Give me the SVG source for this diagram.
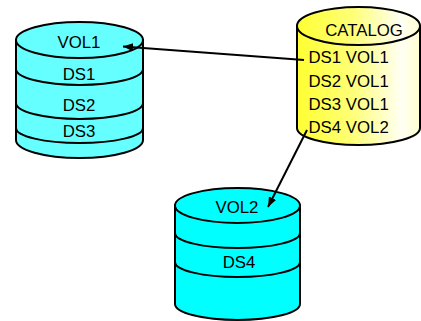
<svg xmlns="http://www.w3.org/2000/svg" width="421" height="321" viewBox="0 0 421 321">
  <style>
    .shape { stroke: #000; stroke-width: 2; }
    .band { fill: none; stroke: #000; stroke-width: 2; }
    .lbl { font-family: "Liberation Sans", Arial, sans-serif; font-size: 16.8px; fill: #000; }
    .mid { text-anchor: middle; }
    .conn { fill: none; stroke: #000; stroke-width: 2; }
  </style>
  <defs>
    <linearGradient id="catFill" x1="297" y1="0" x2="420" y2="0" gradientUnits="userSpaceOnUse">
      <stop offset="0" stop-color="#ffff33"/>
      <stop offset="0.45" stop-color="#ffff77"/>
      <stop offset="0.85" stop-color="#fffff4"/>
      <stop offset="1" stop-color="#ffffd0"/>
    </linearGradient>
    <marker id="head" viewBox="0 0 10 8" refX="10" refY="4" markerWidth="10" markerHeight="8" markerUnits="userSpaceOnUse" orient="auto">
      <path d="M0,0 L10,4 L0,8 Z" fill="#000"/>
    </marker>
  </defs>

  <rect width="421" height="321" fill="#fff"/>

  <!-- volume VOL1 -->
  <g id="vol1">
    <path class="shape" fill="#66ffff" d="M16,40 V140 A63.5,18 0 0 0 143,140 V40 Z"/>
    <ellipse class="shape" fill="#66ffff" cx="79.5" cy="40" rx="63.5" ry="18"/>
    <path class="band" d="M16,69 A63.5,16 0 0 0 143,69"/>
    <path class="band" d="M16,103 A63.5,16 0 0 0 143,103"/>
    <path class="band" d="M16,128 A63.5,15 0 0 0 143,128"/>
    <text class="lbl mid" x="79" y="48">VOL1</text>
    <text class="lbl mid" x="79" y="80">DS1</text>
    <text class="lbl mid" x="79" y="111">DS2</text>
    <text class="lbl mid" x="79" y="137">DS3</text>
  </g>

  <!-- catalog -->
  <g id="catalog">
    <path class="shape" fill="url(#catFill)" d="M297,26 V128 A61.5,17 0 0 0 420,128 V26 Z"/>
    <ellipse class="shape" fill="url(#catFill)" cx="358.5" cy="26" rx="61.5" ry="19"/>
    <text class="lbl mid" x="364" y="36">CATALOG</text>
    <text class="lbl" x="308.5" y="63">DS1 VOL1</text>
    <text class="lbl" x="308.5" y="86.5">DS2 VOL1</text>
    <text class="lbl" x="308.5" y="110">DS3 VOL1</text>
    <text class="lbl" x="308.5" y="133">DS4 VOL2</text>
  </g>

  <!-- volume VOL2 -->
  <g id="vol2">
    <path class="shape" fill="#00ffff" d="M175,205.5 V304 A62.5,16 0 0 0 300,304 V205.5 Z"/>
    <ellipse class="shape" fill="#00ffff" cx="237.5" cy="205.5" rx="62.5" ry="17.5"/>
    <path class="band" d="M175,233 A62.5,15 0 0 0 300,233"/>
    <path class="band" d="M175,262 A62.5,15 0 0 0 300,262"/>
    <text class="lbl mid" x="237" y="213">VOL2</text>
    <text class="lbl mid" x="239" y="268">DS4</text>
  </g>

  <!-- catalog entries pointing at their volumes -->
  <g id="connectors">
    <line class="conn" x1="304" y1="60" x2="123" y2="46.5" marker-end="url(#head)"/>
    <line class="conn" x1="307" y1="130" x2="268" y2="207" marker-end="url(#head)"/>
  </g>
</svg>
